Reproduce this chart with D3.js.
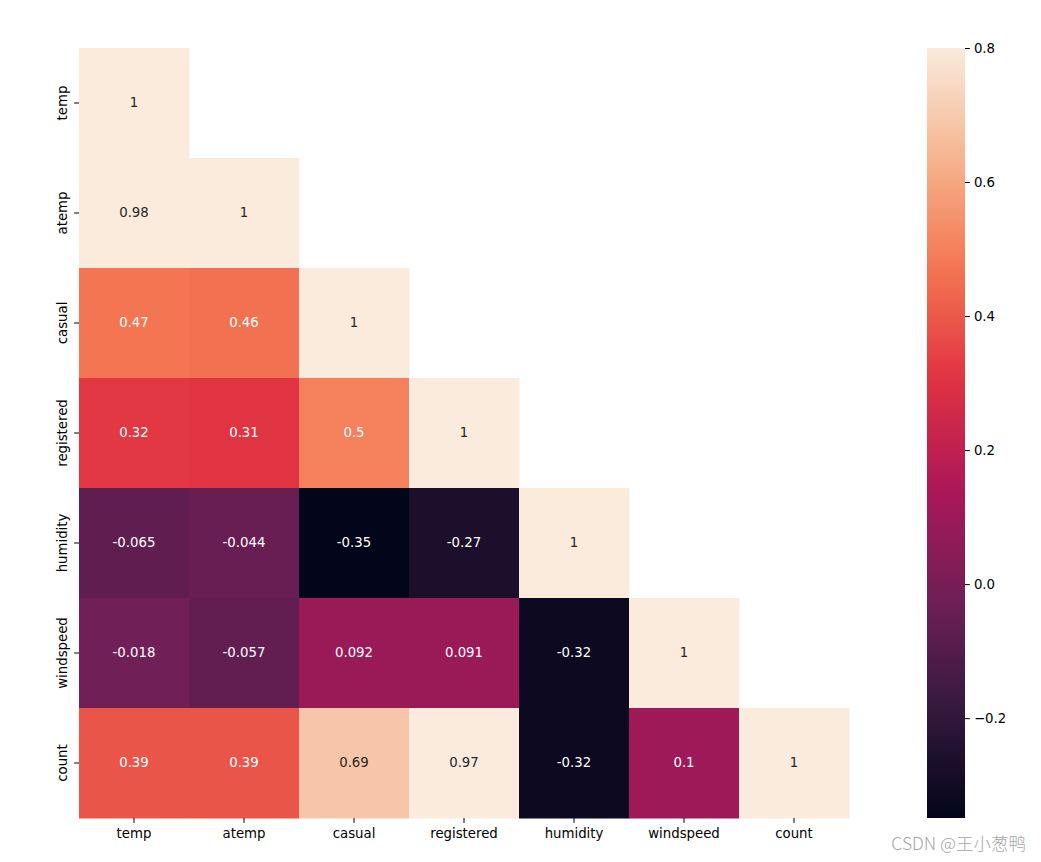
<!DOCTYPE html>
<html><head><meta charset="utf-8">
<script src="https://cdn.jsdelivr.net/npm/d3@7"></script>
<style>body{margin:0;background:#fff;} svg{display:block;font-family:"DejaVu Sans",sans-serif;}</style>
</head><body>
<script>
const labels = ["temp","atemp","casual","registered","humidity","windspeed","count"];
const rows = [
  [1],
  [0.98, 1],
  [0.47, 0.46, 1],
  [0.32, 0.31, 0.5, 1],
  [-0.065, -0.044, -0.35, -0.27, 1],
  [-0.018, -0.057, 0.092, 0.091, -0.32, 1],
  [0.39, 0.39, 0.69, 0.97, -0.32, 0.1, 1]
];
const colorbarTicks = [0.8, 0.6, 0.4, 0.2, 0.0, -0.2];
const vmin = -0.349, vmax = 0.8;
const rocketStops = ["#03051a","#35193e","#701f57","#ad1759","#e13342","#f37651","#f6b48f","#faebdd"];
const rocketPos = [0, 1/7, 2/7, 3/7, 4/7, 5/7, 6/7, 1];

const W = 1041, H = 862;
const svg = d3.select("body").append("svg").attr("width", W).attr("height", H);
const x = d3.scaleBand().domain(labels).range([79, 849]).padding(0);
const y = d3.scaleBand().domain(labels).range([48, 818]).padding(0);
const rocket = d3.scaleLinear().domain(rocketPos).range(rocketStops).interpolate(d3.interpolateRgb).clamp(true);
const color = v => rocket((v - vmin) / (vmax - vmin));

const cells = [];
rows.forEach((r, i) => r.forEach((v, j) => cells.push({row: labels[i], col: labels[j], v})));

svg.append("g").selectAll("rect").data(cells).join("rect")
  .attr("x", d => x(d.col)).attr("y", d => y(d.row))
  .attr("width", x.bandwidth() + 0.5).attr("height", y.bandwidth() + 0.5)
  .attr("fill", d => color(d.v));

function lum(c) {
  const rgb = d3.rgb(c);
  const f = u => { u /= 255; return u <= 0.03928 ? u / 12.92 : Math.pow((u + 0.055) / 1.055, 2.4); };
  return 0.2126 * f(rgb.r) + 0.7152 * f(rgb.g) + 0.0722 * f(rgb.b);
}
svg.append("g").selectAll("text").data(cells).join("text")
  .attr("x", d => x(d.col) + x.bandwidth() / 2)
  .attr("y", d => y(d.row) + y.bandwidth() / 2 - 1)
  .attr("text-anchor", "middle").attr("dominant-baseline", "central")
  .attr("font-size", 13.3)
  .attr("fill", d => lum(color(d.v)) > 0.408 ? "#262626" : "#ffffff")
  .text(d => String(d.v));

// axes
const xAxis = d3.axisBottom(x).tickSize(4.9).tickPadding(6);
const gx = svg.append("g").attr("transform", "translate(0,818)").call(xAxis);
gx.select(".domain").remove();
gx.selectAll("text").attr("font-size", 13.3).attr("fill", "#000").attr("font-family", "DejaVu Sans");
gx.selectAll("line").attr("stroke", "#000").attr("stroke-width", 1);

const yAxis = d3.axisLeft(y).tickSize(4.9).tickPadding(4);
const gy = svg.append("g").attr("transform", "translate(79,0)").call(yAxis);
gy.select(".domain").remove();
gy.selectAll("line").attr("stroke", "#000");
gy.selectAll("text").attr("font-size", 13.3).attr("fill", "#000").attr("font-family", "DejaVu Sans")
  .attr("text-anchor", "middle").attr("dy", null)
  .attr("x", 0).attr("y", 0).attr("dominant-baseline", "central")
  .attr("transform", "translate(-17,0) rotate(-90)");

// colorbar
const cbX = 927, cbW = 38;
const cy = d3.scaleLinear().domain([vmin, vmax]).range([818, 48]);
const defs = svg.append("defs");
const grad = defs.append("linearGradient").attr("id", "cb").attr("x1", 0).attr("y1", 1).attr("x2", 0).attr("y2", 0);
d3.range(0, 1.0001, 0.02).forEach(t => grad.append("stop").attr("offset", t).attr("stop-color", rocket(t)));
svg.append("rect").attr("x", cbX).attr("y", 48).attr("width", cbW).attr("height", 770).attr("fill", "url(#cb)");
const cAxis = d3.axisRight(cy).tickValues(colorbarTicks).tickSize(4.9).tickPadding(4)
  .tickFormat(d => d3.format(".1f")(d).replace("-", "\u2212"));
const gc = svg.append("g").attr("transform", `translate(${cbX + cbW},0)`).call(cAxis);
gc.select(".domain").remove();
gc.selectAll("line").attr("stroke", "#000");
gc.selectAll("text").attr("font-size", 13.3).attr("fill", "#000").attr("font-family", "DejaVu Sans");

// watermark
svg.append("text").attr("x", 1026).attr("y", 850).attr("text-anchor", "end")
  .attr("font-size", 17.5).attr("fill", "#a6a6a6")
  .attr("font-family", "'Noto Sans CJK SC','Noto Sans',sans-serif")
  .attr("font-weight", 300)
  .text("CSDN @王小葱鸭");
</script>
</body></html>
